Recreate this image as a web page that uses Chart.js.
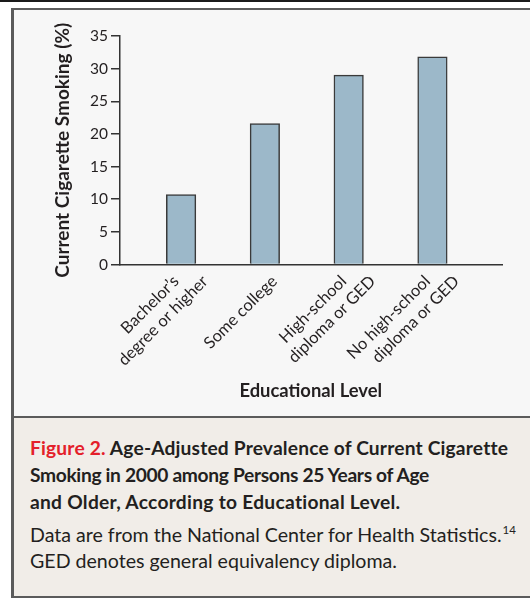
<!DOCTYPE html>
<html>
<head>
  <title>Current Cigarette Smoking by Educational Level</title>
  <script src="https://cdn.jsdelivr.net/npm/chart.js"></script>
  <style>
    body { margin: 0; width: 530px; height: 598px; overflow: hidden; background: #fff; font-family: Lato, sans-serif; color: #231f20; }
    #topline { position: absolute; left: 0; top: 0; width: 530px; height: 1.5px; background: #1a1a1a; }
    #panel { position: absolute; left: 11px; top: 8px; width: 530px; height: 585.5px; background: #f7f7f7;
             border-left: 3px solid #5b5b5b; border-top: 2px solid #5b5b5b; border-bottom: 3px solid #5b5b5b; }
    #caption { position: absolute; left: 11px; top: 415.5px; width: 530px; height: 178px; background: #f1ede8;
               border-left: 3px solid #5b5b5b; border-top: 2.5px solid #5b5b5b; }
    #cap-title { position: absolute; left: 30px; top: 435.2px; font-weight: bold; font-size: 19.2px; line-height: 26.67px; white-space: nowrap; }
    #cap-title .fig { color: #e4202a; }
    #cap-text { position: absolute; left: 30px; top: 521.8px; font-size: 19.6px; line-height: 26.67px; white-space: nowrap; }
    #cap-text sup { font-size: 11.5px; vertical-align: 7.5px; line-height: 0; margin-left: 1px; }
    canvas { position: absolute; left: 0; top: 0; }
  </style>
</head>
<body>
  <div id="topline"></div>
  <div id="panel"></div>
  <div id="caption"></div>
  <canvas id="smokeChart" width="530" height="415"></canvas>
  <div id="cap-title"><span style="letter-spacing:0.17px"><span class="fig">Figure 2.</span> Age-Adjusted Prevalence of Current Cigarette</span><br><span style="letter-spacing:-0.33px">Smoking in 2000 among Persons 25 Years of Age</span><br><span style="letter-spacing:0.28px">and Older, According to Educational Level.</span></div>
  <div id="cap-text">Data are from the National Center for Health Statistics.<sup>14</sup><br>GED denotes general equivalency diploma.</div>
  <script>
    // categories (one array per label line) and values
    const levels = [
      ['Bachelor’s', 'degree or higher'],
      ['Some college'],
      ['High-school', 'diploma or GED'],
      ['No high-school', 'diploma or GED']
    ];
    const smoking = [10.7, 21.6, 29.0, 31.8];
    const yMin = 0, yMax = 35, yStep = 5;

    const ink = '#333333';

    // rotated category labels: every line ends just under the axis, lines side by side
    const levelLabels = {
      id: 'levelLabels',
      afterDraw(chart) {
        const ctx = chart.ctx;
        const xs = chart.scales.x;
        const shift = 29;
        ctx.save();
        ctx.font = '16.5px Lato';
        ctx.fillStyle = '#231f20';
        ctx.textAlign = 'right';
        ctx.textBaseline = 'middle';
        levels.forEach((lines, i) => {
          const px = xs.getPixelForValue(i + 1);
          lines.forEach((l, j) => {
            ctx.save();
            ctx.translate(px + 9.5 + (j - (lines.length - 1) / 2) * shift, chart.chartArea.bottom + 14);
            ctx.rotate(-Math.PI / 4);
            ctx.fillText(l, 0, 0);
            ctx.restore();
          });
        });
        ctx.restore();
      }
    };

    new Chart(document.getElementById('smokeChart'), {
      type: 'bar',
      data: {
        datasets: [{
          data: smoking.map((v, i) => ({ x: i + 1, y: v })),
          backgroundColor: '#9cb8c9',
          borderColor: '#3a3a3a',
          borderWidth: 1.5,
          barThickness: 29.5
        }]
      },
      options: {
        responsive: false,
        animation: false,
        layout: { padding: { top: 36, left: 51.1, right: 28, bottom: 12.8 } },
        plugins: { legend: { display: false }, tooltip: { enabled: false } },
        scales: {
          x: {
            type: 'linear',
            offset: false,
            min: 0.265,
            max: 4.83,
            afterBuildTicks: s => { s.ticks = levels.map((_, i) => ({ value: i + 1 })); },
            afterFit: s => { s.height = 137.7; },
            ticks: { display: false },
            grid: { display: false, offset: false },
            border: { color: ink, width: 1.5 },
            title: {
              display: true,
              text: 'Educational Level',
              color: '#231f20',
              font: { family: 'Lato', size: 18.4, weight: 'bold' },
              padding: { top: 0, bottom: 0 }
            }
          },
          y: {
            min: yMin,
            max: yMax,
            afterFit: s => { s.width = 68.4; },
            ticks: { stepSize: yStep, color: '#231f20', padding: 3, font: { family: 'Lato', size: 15.5 } },
            grid: { drawOnChartArea: false, drawTicks: true, tickLength: 8.5, color: ink, lineWidth: 1.5 },
            border: { color: ink, width: 1.5 },
            title: {
              display: true,
              text: 'Current Cigarette Smoking (%)',
              color: '#231f20',
              font: { family: 'Lato', size: 19, weight: 'bold' },
              padding: { top: 0, bottom: 0 }
            }
          }
        }
      },
      plugins: [levelLabels]
    });
  </script>
</body>
</html>
